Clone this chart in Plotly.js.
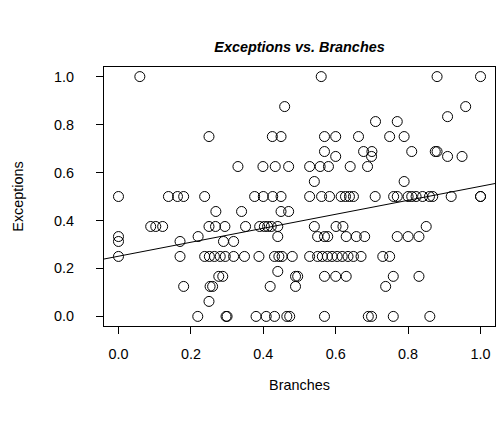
<!DOCTYPE html>
<html>
<head>
<meta charset="utf-8">
<script src="https://cdn.plot.ly/plotly-3.0.1.min.js"></script>
<style>html,body{margin:0;padding:0;background:#fff;}#chart{width:499px;height:425px;}</style>
</head>
<body>
<div id="chart"></div>
<script>
// Observed points, grouped by their Exceptions value (y) -> Branches values (x)
const yLevels = [1.0, 0.875, 0.833, 0.8125, 0.75, 0.6875, 0.667, 0.625, 0.5625, 0.5, 0.4375, 0.375, 0.333, 0.3125, 0.25, 0.1875, 0.167, 0.125, 0.0625, 0.0];
const branchesAtLevel = [
  [0.059, 0.56, 0.88, 1.0],
  [0.459, 0.959],
  [0.909],
  [0.71, 0.77],
  [0.25, 0.425, 0.449, 0.569, 0.60, 0.663, 0.749, 0.789],
  [0.569, 0.677, 0.70, 0.81, 0.875, 0.88],
  [0.60, 0.699, 0.909, 0.949],
  [0.33, 0.399, 0.433, 0.47, 0.528, 0.557, 0.58, 0.64, 0.688],
  [0.541, 0.789],
  [0.0, 0.138, 0.163, 0.18, 0.238, 0.376, 0.40, 0.426, 0.449, 0.528, 0.561, 0.583, 0.615, 0.627, 0.638, 0.649, 0.709, 0.76, 0.77, 0.80, 0.81, 0.822, 0.84, 0.859, 0.868, 0.919, 1.0, 1.0],
  [0.269, 0.34, 0.449, 0.47],
  [0.089, 0.103, 0.122, 0.25, 0.268, 0.294, 0.351, 0.39, 0.403, 0.412, 0.422, 0.44, 0.541, 0.601, 0.62, 0.85],
  [0.0, 0.22, 0.44, 0.55, 0.569, 0.578, 0.629, 0.657, 0.68, 0.77, 0.80, 0.83],
  [0.0, 0.17, 0.29, 0.318],
  [0.0, 0.17, 0.238, 0.251, 0.265, 0.281, 0.295, 0.318, 0.348, 0.388, 0.431, 0.443, 0.452, 0.48, 0.528, 0.55, 0.563, 0.577, 0.59, 0.604, 0.618, 0.634, 0.649, 0.67, 0.73, 0.749],
  [0.44],
  [0.277, 0.288, 0.489, 0.495, 0.569, 0.60, 0.629, 0.759, 0.83],
  [0.18, 0.253, 0.26, 0.419, 0.489, 0.738],
  [0.25],
  [0.219, 0.297, 0.30, 0.38, 0.408, 0.431, 0.465, 0.473, 0.569, 0.69, 0.699, 0.759, 0.86]
];
const tickValues = [0, 0.2, 0.4, 0.6, 0.8, 1.0];
const tickLabels = ["0.0", "0.2", "0.4", "0.6", "0.8", "1.0"];

const branches = [];
const exceptions = [];
branchesAtLevel.forEach((xs, i) => xs.forEach(x => { branches.push(x); exceptions.push(yLevels[i]); }));

// least-squares fit (abline(lm(Exceptions ~ Branches)))
const n = branches.length;
const mx = branches.reduce((a, b) => a + b, 0) / n;
const my = exceptions.reduce((a, b) => a + b, 0) / n;
let sxy = 0, sxx = 0;
for (let i = 0; i < n; i++) { sxy += (branches[i] - mx) * (exceptions[i] - my); sxx += (branches[i] - mx) ** 2; }
const slope = sxy / sxx;
const intercept = my - slope * mx;
const xr = [-0.04, 1.04];
const yr = [-0.04, 1.04];

const font = "'Liberation Sans', Arial, Helvetica, sans-serif";
const data = [
  {x: branches, y: exceptions, type: 'scatter', mode: 'markers',
   marker: {symbol: 'circle-open', size: 10, color: '#000', line: {width: 1, color: '#000'}},
   hoverinfo: 'x+y', showlegend: false},
  {x: xr, y: xr.map(v => intercept + slope * v), type: 'scatter', mode: 'lines',
   line: {color: '#000', width: 1}, showlegend: false, hoverinfo: 'skip'}
];
const axisBase = {
  showgrid: false, zeroline: false, showline: true, mirror: true,
  linecolor: '#000', linewidth: 1, ticks: 'outside', ticklen: 7, tickwidth: 1, tickcolor: '#000',
  tickmode: 'array', tickvals: tickValues, ticktext: tickLabels,
  tickfont: {family: font, size: 14.4, color: '#000'}
};
const layout = {
  width: 499, height: 425,
  margin: {l: 104, r: 4, t: 67, b: 99},
  paper_bgcolor: '#fff', plot_bgcolor: '#fff',
  font: {family: font, color: '#000'},
  title: {text: 'Exceptions vs. Branches', x: 0.5, xref: 'paper', y: 1 - 47 / 425, yref: 'container', yanchor: 'middle',
          font: {family: font, size: 14.4, weight: 'bold', style: 'italic', color: '#000'}},
  xaxis: Object.assign({}, axisBase, {range: xr, ticklabelstandoff: 8,
          title: {text: 'Branches', standoff: 18, font: {family: font, size: 14.4, color: '#000'}}}),
  yaxis: Object.assign({}, axisBase, {range: yr, ticklabelstandoff: 19,
          title: {text: 'Exceptions', standoff: 27, font: {family: font, size: 14.4, color: '#000'}}})
};
Plotly.newPlot('chart', data, layout, {displayModeBar: false, staticPlot: true});
</script>
</body>
</html>
